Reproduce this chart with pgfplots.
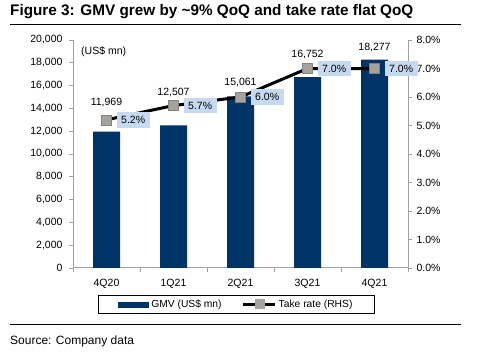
\documentclass[border=0pt]{standalone}
\usepackage{pgfplots}
\pgfplotsset{compat=1.18}
\usepackage{fontspec}
\setmainfont{Liberation Sans}
\definecolor{navy}{HTML}{003366}
\definecolor{lblue}{HTML}{C6D9F1}
\definecolor{mgray}{HTML}{A6A29E}
\definecolor{axgray}{HTML}{A0A0A0}
\newcommand{\fs}{\fontsize{10.5}{12}\selectfont}

\pgfplotstableread{
x y dy
0 11969 28.6
1 12507 33
2 15061 14
3 16752 23
4 18277 12.6
}\gmv

\pgfplotstableread{
x y
0 5.2
1 5.7
2 6.0
3 7.0
4 7.0
}\take

\begin{document}
\begin{tikzpicture}[x=1pt,y=1pt]
\useasboundingbox (0,0) rectangle (484,353);
\node[anchor=west,font=\bfseries\fontsize{15.3}{18}\selectfont,inner sep=0] at (10,341) {Figure 3: GMV grew by \textasciitilde9\% QoQ and take rate flat QoQ};
\draw[line width=1pt] (10,328) -- (461,328);
\draw[line width=1pt] (10,28) -- (461,28);
\node[anchor=west,font=\fontsize{12}{14}\selectfont,inner sep=0] at (10,12) {Source: Company data};

\begin{axis}[
  at={(73pt,85pt)}, anchor=south west, scale only axis,
  width=335pt, height=228pt,
  xmin=-0.5, xmax=4.5, ymin=0, ymax=20000,
  axis x line=bottom, axis y line=left,
  axis line style={draw=axgray, line width=1pt, -},
  tick style={draw=axgray, line width=0.8pt},
  tick align=outside,
  xtick={0,...,4}, xticklabels={4Q20,1Q21,2Q21,3Q21,4Q21},
  major x tick style={draw=none},
  minor xtick={-0.5,0.5,1.5,2.5,3.5,4.5},
  minor tick length=4pt, major tick length=4pt,
  ytick={0,2000,...,20000},
  scaled y ticks=false,
  /pgf/number format/1000 sep={,},
  /pgf/number format/assume math mode=true,
  tick label style={font=\fs},
  xticklabel style={yshift=-4pt},
  yticklabel style={xshift=-3pt},
  clip=false,
]
\addplot[ybar, bar width=27pt, fill=navy, draw=none,
  visualization depends on={\thisrow{dy} \as \dy},
  nodes near coords,
  every node near coord/.append style={anchor=center, yshift=\dy pt, font=\fs, text=black,
    /pgf/number format/1000 sep={,}, /pgf/number format/assume math mode=true}]
  table[x=x,y=y] {\gmv};
\node[anchor=west,font=\fs,inner sep=0] at (rel axis cs:0.024,0.95) {(US\$ mn)};
\end{axis}

\begin{axis}[
  at={(73pt,85pt)}, anchor=south west, scale only axis,
  width=335pt, height=228pt,
  xmin=-0.5, xmax=4.5, ymin=0, ymax=8,
  axis x line=none, axis y line*=right,
  axis line style={draw=axgray, line width=1pt, -},
  tick style={draw=axgray, line width=0.8pt},
  tick align=outside, major tick length=4pt,
  ytick={0,...,8},
  yticklabel={\pgfmathprintnumber[fixed,fixed zerofill,precision=1]{\tick}\%},
  /pgf/number format/assume math mode=true,
  tick label style={font=\fs},
  yticklabel style={xshift=1pt},
  clip=false,
  legend style={at={(0.488,-0.160)}, anchor=center, draw=black, line width=0.8pt,
    font=\fontsize{10.3}{12}\selectfont, legend columns=2,
    inner xsep=20pt, inner ysep=2.5pt,
    /tikz/every even column/.append style={column sep=18pt}},
  legend cell align=left,
]
\addlegendimage{legend image code/.code={\fill[navy] (-4pt,-2.5pt) rectangle (26pt,2.5pt);}}
\addlegendentry{GMV (US\$ mn)}
\addplot[black, line width=3pt, mark=square*, mark size=5pt,
  mark options={fill=mgray, draw=mgray!80!black, line width=0.4pt},
  legend image code/.code={\draw[black,line width=3pt] (-2pt,0) -- (30pt,0);
     \fill[mgray] (11pt,-3.5pt) rectangle (18pt,3.5pt);},
  point meta=y,
  nodes near coords={\pgfmathprintnumber[fixed,fixed zerofill,precision=1]{\pgfplotspointmeta}\%},
  every node near coord/.append style={anchor=west, xshift=10pt, font=\fs, text=black,
    fill=lblue, inner xsep=4.5pt, inner ysep=4pt,
    /pgf/number format/assume math mode=true}]
  table[x=x,y=y] {\take};
\addlegendentry{Take rate (RHS)}
\end{axis}
\end{tikzpicture}
\end{document}
